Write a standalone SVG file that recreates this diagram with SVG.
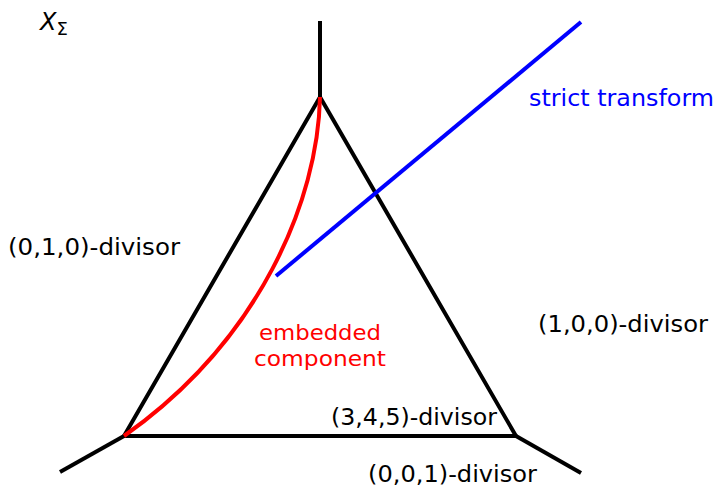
<svg xmlns="http://www.w3.org/2000/svg" width="718" height="489" viewBox="0 0 718 489">
<style>
.e{stroke:#000;stroke-width:4;fill:none;stroke-linecap:butt;stroke-linejoin:miter}
.t{font-family:"DejaVu Sans","Liberation Sans",sans-serif;font-size:23.5px;fill:#000}
.r{font-size:21.5px;fill:#f00}
</style>
<rect width="718" height="489" fill="#fff"/>
<g id="edges">
<path class="e" d="M320 21 V97"/>
<path class="e" d="M320 97 L124 436 H516 Z"/>
<path class="e" d="M124 436 L60 472"/>
<path class="e" d="M516 436 L581 473"/>
</g>
<g id="curves">
<path d="M320 97 C318 200 260 340 124 436" fill="none" stroke="#f00" stroke-width="4"/>
<path d="M276 276 L581 22" fill="none" stroke="#00f" stroke-width="4"/>
</g>
<g id="labels">
<text x="40" y="30" font-family="DejaVu Sans,sans-serif" font-size="24" font-style="italic">X<tspan font-size="18" font-style="normal" dy="5">Σ</tspan></text>
<text class="t" x="8" y="255" textLength="172" lengthAdjust="spacingAndGlyphs">(0,1,0)-divisor</text>
<text class="t" x="538" y="332" textLength="170" lengthAdjust="spacingAndGlyphs">(1,0,0)-divisor</text>
<text class="t" x="331" y="425" textLength="166" lengthAdjust="spacingAndGlyphs">(3,4,5)-divisor</text>
<text class="t" x="368" y="482" textLength="169" lengthAdjust="spacingAndGlyphs">(0,0,1)-divisor</text>
<text class="t" x="529" y="106" textLength="185" lengthAdjust="spacingAndGlyphs" style="fill:#00f">strict transform</text>
<text class="t r" x="259" y="340" textLength="122" lengthAdjust="spacingAndGlyphs">embedded</text>
<text class="t r" x="254" y="366" textLength="132" lengthAdjust="spacingAndGlyphs">component</text>
</g>
</svg>
